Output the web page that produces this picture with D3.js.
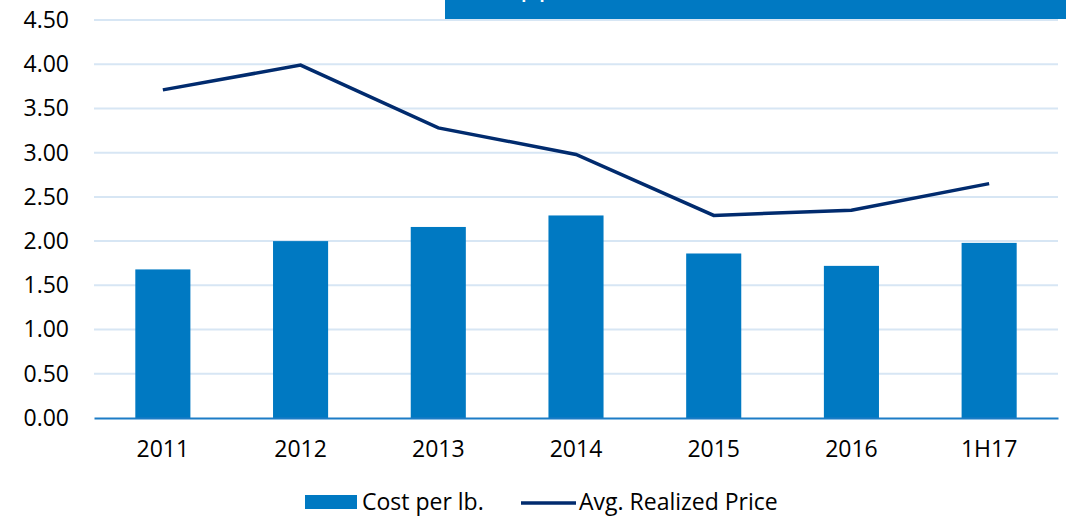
<!DOCTYPE html>
<html>
<head>
<meta charset="utf-8">
<script src="https://cdn.jsdelivr.net/npm/d3@7"></script>
<style>
  html, body { margin: 0; padding: 0; background: #fff; }
  svg { display: block; font-family: "Open Sans", sans-serif; }
</style>
</head>
<body>
<svg id="chart" width="1066" height="516"></svg>
<script>
// chart values
const categories = ["2011", "2012", "2013", "2014", "2015", "2016", "1H17"];
const costPerLb = [1.68, 2.00, 2.16, 2.29, 1.86, 1.72, 1.98];
const avgRealizedPrice = [3.71, 3.99, 3.28, 2.98, 2.29, 2.35, 2.65];
const yTicks = [0, 0.5, 1, 1.5, 2, 2.5, 3, 3.5, 4, 4.5];
const legendLabels = ["Cost per lb.", "Avg. Realized Price"];

const barColor = "#0079C2", lineColor = "#012B6E", gridColor = "#D7E6F4";

const svg = d3.select("#chart");
const margin = { top: 20, right: 8, bottom: 98, left: 94 };
const width = +svg.attr("width"), height = +svg.attr("height");

const x = d3.scaleBand().domain(categories).range([margin.left, width - margin.right]).padding(0);
const y = d3.scaleLinear().domain([0, 4.5]).range([height - margin.bottom, margin.top]);
const barW = x.bandwidth() * 0.4;

// gridlines
svg.append("g")
    .selectAll("line")
    .data(yTicks.filter(d => d > 0))
    .enter().append("line")
    .attr("x1", margin.left).attr("x2", width - margin.right)
    .attr("y1", d => y(d)).attr("y2", d => y(d))
    .attr("stroke", gridColor).attr("stroke-width", 2);

// header box, cut off at the top like in the source slide
svg.append("rect")
    .attr("x", 445).attr("y", 0).attr("width", width - 445).attr("height", 19)
    .attr("fill", barColor);
svg.append("text")
    .attr("x", 483).attr("y", -5)
    .attr("fill", "#fff").attr("font-size", 30)
    .text("Copper");

// y axis labels
const yAxis = svg.append("g")
    .attr("transform", `translate(${margin.left},0)`)
    .call(d3.axisLeft(y).tickValues(yTicks).tickFormat(d3.format(".2f")).tickSize(0).tickPadding(25));
yAxis.select(".domain").remove();
yAxis.selectAll("text").attr("font-size", 23).attr("fill", "#000").style("font-family", "Open Sans");

// bars
svg.append("g")
    .selectAll("rect")
    .data(categories)
    .enter().append("rect")
    .attr("x", d => x(d) + (x.bandwidth() - barW) / 2)
    .attr("y", (d, i) => y(costPerLb[i]))
    .attr("width", barW)
    .attr("height", (d, i) => y(0) - y(costPerLb[i]))
    .attr("fill", barColor);

// baseline + x labels
const xAxis = svg.append("g")
    .attr("transform", `translate(0,${y(0)})`)
    .call(d3.axisBottom(x).tickSize(0).tickPadding(23));
xAxis.select(".domain").attr("stroke", "#1C7CC6").attr("stroke-width", 2);
xAxis.selectAll("text").attr("font-size", 23).attr("fill", "#000").style("font-family", "Open Sans");

// price line
svg.append("path")
    .datum(categories)
    .attr("fill", "none")
    .attr("stroke", lineColor)
    .attr("stroke-width", 3.5)
    .attr("d", d3.line().x(d => x(d) + x.bandwidth() / 2).y((d, i) => y(avgRealizedPrice[i])));

// legend
const legend = svg.append("g").attr("font-size", 23).attr("fill", "#000");
legend.append("rect").attr("x", 305).attr("y", 495).attr("width", 52).attr("height", 14).attr("fill", barColor);
legend.append("text").attr("x", 362).attr("y", 510).text(legendLabels[0]);
legend.append("line").attr("x1", 521).attr("x2", 576).attr("y1", 503).attr("y2", 503)
    .attr("stroke", lineColor).attr("stroke-width", 3.5);
legend.append("text").attr("x", 579).attr("y", 510).text(legendLabels[1]);
</script>
</body>
</html>
